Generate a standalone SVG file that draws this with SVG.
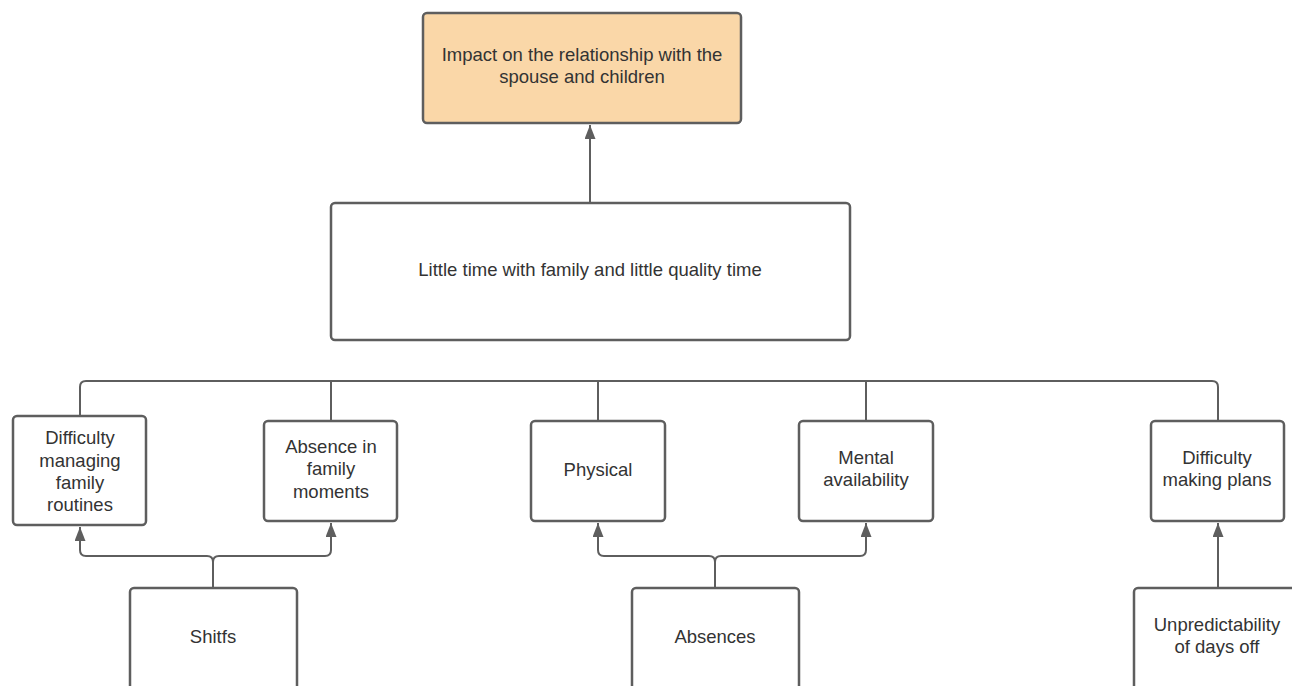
<svg xmlns="http://www.w3.org/2000/svg" width="1292" height="686" viewBox="0 0 1292 686">
<defs>
<style>
.box{fill:#ffffff;stroke:#5e5e5e;stroke-width:2.5}
.hl{fill:#fad7a8}
.t{font-family:"Liberation Sans",Arial,sans-serif;font-size:18.5px;fill:#333333;text-anchor:middle}
.c{fill:none;stroke:#5e5e5e;stroke-width:2}
</style>
<marker id="ah" viewBox="0 0 14 11" refX="14" refY="5.5" markerWidth="14" markerHeight="11" markerUnits="userSpaceOnUse" orient="auto">
<path d="M0,0 L14,5.5 L0,11 z" fill="#5e5e5e"/>
</marker>
</defs>
<rect width="1292" height="686" fill="#ffffff"/>
<g id="connectors">
<path class="c" d="M590,203 V125" marker-end="url(#ah)"/>
<path class="c" d="M80,416 V387 Q80,381 86,381 H1212 Q1218,381 1218,387 V421"/>
<path class="c" d="M331,381 V421"/>
<path class="c" d="M598,381 V421"/>
<path class="c" d="M866,381 V421"/>
<path class="c" d="M213,588 V562 Q213,556 207,556 H86 Q80,556 80,550 V527" marker-end="url(#ah)"/>
<path class="c" d="M213,562 Q213,556 219,556 H325 Q331,556 331,550 V523" marker-end="url(#ah)"/>
<path class="c" d="M715,588 V562 Q715,556 709,556 H604 Q598,556 598,550 V523" marker-end="url(#ah)"/>
<path class="c" d="M715,562 Q715,556 721,556 H860 Q866,556 866,550 V523" marker-end="url(#ah)"/>
<path class="c" d="M1218,588 V523" marker-end="url(#ah)"/>
</g>
<g id="n-impact">
<rect class="box hl" x="423" y="13" width="318" height="110" rx="4"/>
<text class="t" x="582" y="61">Impact on the relationship with the</text>
<text class="t" x="582" y="83">spouse and children</text>
</g>
<g id="n-littletime">
<rect class="box" x="331" y="203" width="519" height="137" rx="4"/>
<text class="t" x="590" y="276">Little time with family and little quality time</text>
</g>
<g id="n-routines">
<rect class="box" x="13" y="416" width="133" height="109" rx="4"/>
<text class="t" x="80" y="444">Difficulty</text>
<text class="t" x="80" y="467">managing</text>
<text class="t" x="80" y="489">family</text>
<text class="t" x="80" y="511">routines</text>
</g>
<g id="n-absence-moments">
<rect class="box" x="264" y="421" width="133" height="100" rx="4"/>
<text class="t" x="331" y="453">Absence in</text>
<text class="t" x="331" y="475">family</text>
<text class="t" x="331" y="498">moments</text>
</g>
<g id="n-physical">
<rect class="box" x="531" y="421" width="134" height="100" rx="4"/>
<text class="t" x="598" y="476">Physical</text>
</g>
<g id="n-mental">
<rect class="box" x="799" y="421" width="134" height="100" rx="4"/>
<text class="t" x="866" y="464">Mental</text>
<text class="t" x="866" y="486">availability</text>
</g>
<g id="n-plans">
<rect class="box" x="1151" y="421" width="133" height="100" rx="4"/>
<text class="t" x="1217" y="464">Difficulty</text>
<text class="t" x="1217" y="486">making plans</text>
</g>
<g id="n-shifts">
<rect class="box" x="130" y="588" width="167" height="110" rx="4"/>
<text class="t" x="213" y="643">Shitfs</text>
</g>
<g id="n-absences">
<rect class="box" x="632" y="588" width="167" height="110" rx="4"/>
<text class="t" x="715" y="643">Absences</text>
</g>
<g id="n-unpredict">
<rect class="box" x="1134" y="588" width="167" height="110" rx="4"/>
<text class="t" x="1217" y="631">Unpredictability</text>
<text class="t" x="1217" y="653">of days off</text>
</g>
</svg>
